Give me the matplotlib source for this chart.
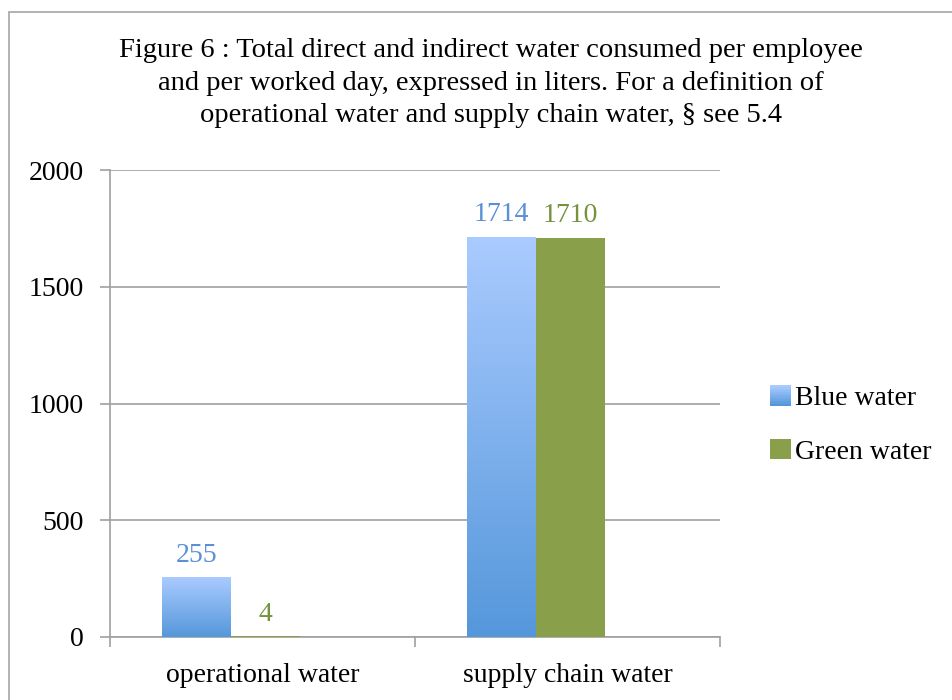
import numpy as np
import matplotlib
matplotlib.use("Agg")
import matplotlib.pyplot as plt
from matplotlib.patches import Rectangle
from matplotlib.legend_handler import HandlerBase
from matplotlib.colors import LinearSegmentedColormap

# data
categories = ["operational water", "supply chain water"]
blue_water = [255, 1714]
green_water = [4, 1710]
series_names = ["Blue water", "Green water"]
yticks = [0, 500, 1000, 1500, 2000]

title = ("Figure 6 : Total direct and indirect water consumed per employee\n"
         "and per worked day, expressed in liters. For a definition of\n"
         "operational water and supply chain water, § see 5.4")

plt.rcParams['font.family'] = ['Liberation Serif', 'DejaVu Serif']

blue_top = "#aacbff"
blue_bot = "#5597db"
green = "#8a9f4a"
blue_lbl = "#5b8fd6"
green_lbl = "#76923c"
grid_col = "#a0a0a0"
fs = 20

blue_cmap = LinearSegmentedColormap.from_list("bl", [blue_bot, blue_top])

fig = plt.figure(figsize=(9.53, 7.0), dpi=100)
# outer chart border
fig.patches.append(Rectangle((9 / 953, -0.05), 1.0, 1 - 12 / 700 + 0.05,
                             transform=fig.transFigure, fill=False,
                             edgecolor="#a6a6a6", linewidth=1.2))

ax = fig.add_axes([110 / 953, 63 / 700, 610 / 953, 467 / 700])

x = np.arange(len(categories))
w = 0.226
shift = -0.103  # Excel-style group offset within each category
bars_b = ax.bar(x + shift - w / 2, blue_water, w, color=blue_top, zorder=3)
bars_g = ax.bar(x + shift + w / 2, green_water, w, color=green, zorder=3)

# gradient fill for blue bars
grad = np.linspace(0, 1, 256).reshape(-1, 1)
for b in bars_b:
    bx, by = b.get_x(), b.get_y()
    bw, bh = b.get_width(), b.get_height()
    im = ax.imshow(grad, cmap=blue_cmap, origin="lower", aspect="auto",
                   extent=[bx, bx + bw, by, by + bh], zorder=3.5)
    im.set_clip_path(b)

for b, v in zip(bars_b, blue_water):
    ax.text(b.get_x() + b.get_width() / 2, v + 40, str(v), ha="center",
            va="bottom", color=blue_lbl, fontsize=fs)
for b, v in zip(bars_g, green_water):
    ax.text(b.get_x() + b.get_width() / 2, v + 40, str(v), ha="center",
            va="bottom", color=green_lbl, fontsize=fs)

ax.set_xlim(-0.5, 1.5)
ax.set_ylim(0, 2000)
ax.set_yticks(yticks)
ax.set_yticklabels([str(t) for t in yticks], fontsize=fs)
ax.set_xticks(x)
ax.set_xticklabels(categories, fontsize=fs)
ax.set_xticks([-0.5, 0.5, 1.5], minor=True)
ax.tick_params(axis="x", which="major", length=0, pad=19)
ax.tick_params(axis="x", which="minor", length=7, color=grid_col, width=1.2)
ax.tick_params(axis="y", length=7, color=grid_col, width=1.2, pad=12)
ax.yaxis.grid(True, color=grid_col, linewidth=1.2, zorder=0)
ax.set_axisbelow(True)
for s in ["top", "right"]:
    ax.spines[s].set_visible(False)
for s in ["left", "bottom"]:
    ax.spines[s].set_color(grid_col)
    ax.spines[s].set_linewidth(1.2)


class GradHandler(HandlerBase):
    def create_artists(self, legend, orig_handle, xdescent, ydescent,
                       width, height, fontsize, trans):
        n = 12
        arts = []
        for i in range(n):
            c = blue_cmap(1 - i / (n - 1))
            r = Rectangle((-xdescent, -ydescent + height * (n - 1 - i) / n),
                          width, height / n, facecolor=c, edgecolor="none",
                          transform=trans)
            arts.append(r)
        return arts


leg = fig.legend([bars_b[0], bars_g[0]], series_names,
                 handler_map={bars_b[0]: GradHandler()},
                 loc="center left", bbox_to_anchor=(745 / 953, 1 - 425 / 700),
                 frameon=False, fontsize=fs, handlelength=0.75,
                 handleheight=0.75, handletextpad=0.15, labelspacing=1.0)

fig.text(0.515, 1 - 83 / 700, title, ha="center", va="center",
         fontsize=20.5, linespacing=1.4)

fig.savefig("out.png", dpi=100)
